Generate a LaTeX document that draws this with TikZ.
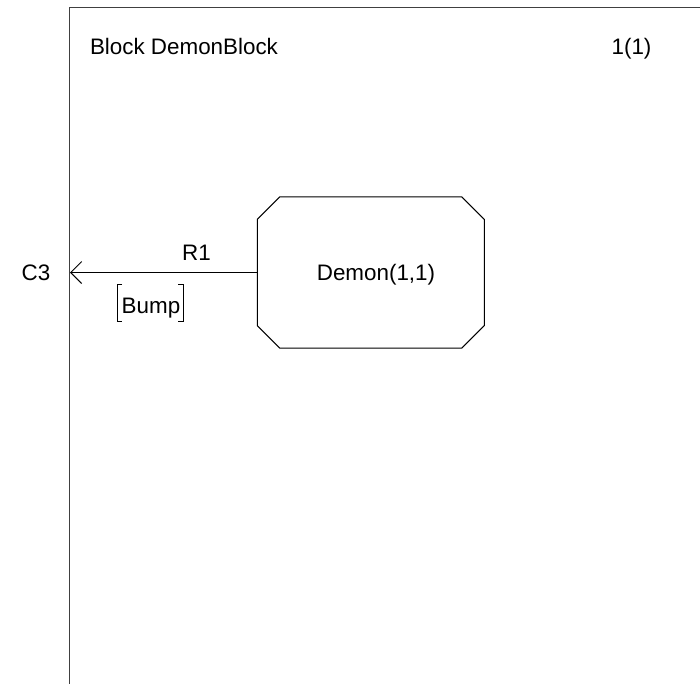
\documentclass[tikz,border=0pt]{standalone}
\usepackage{fontspec}
\setmainfont{Liberation Sans}
\usetikzlibrary{arrows.meta}
\begin{document}
\begin{tikzpicture}[x=0.5pt,y=-0.5pt,
  txt/.style={inner sep=0pt,outer sep=0pt,anchor=base,font=\fontsize{11.2}{13}\selectfont},
  frameline/.style={line width=0.9pt,draw=black!75},
  thin/.style={line width=0.5pt,draw=black},
  octa/.style={rectangle,minimum width=113.5pt,minimum height=75.5pt,inner sep=0pt,outer sep=0pt}]
\useasboundingbox (0,0) rectangle (700,684);
% frame
\coordinate (ftr) at (700,7.5);
\coordinate (ftl) at (69.5,7.5);
\coordinate (fbl) at (69.5,684);
\draw[frameline] (ftr) -- (ftl) -- (fbl);
\node[txt,anchor=base west] (title) at (90,55) {Block DemonBlock};
\node[txt] (page) at (631.5,55) {1(1)};
% process
\node[octa] (demon) at (370.75,272.5) {};
\draw[thin] ([xshift=11.2pt]demon.north west) -- ([xshift=-11.2pt]demon.north east)
  -- ([yshift=-11.2pt]demon.north east) -- ([yshift=11.2pt]demon.south east)
  -- ([xshift=-11.2pt]demon.south east) -- ([xshift=11.2pt]demon.south west)
  -- ([yshift=11.2pt]demon.south west) -- ([yshift=-11.2pt]demon.north west) -- cycle;
\node[txt] (demontxt) at (376,280) {Demon(1,1)};
% channel
\coordinate (c3pt) at (70,272.5);
\node[txt] (c3) at (36,280) {C3};
\draw[thin,-{Straight Barb[length=5.5pt,width=11pt]}] (demon.west) -- (c3pt);
\node[txt] (r1) at (196.5,260) {R1};
\node[txt] (bump) at (151,313) {Bump};
\coordinate (bl1) at (122,284);
\coordinate (bl2) at (117,284);
\coordinate (bl3) at (117,321);
\coordinate (bl4) at (122,321);
\coordinate (br1) at (178,284);
\coordinate (br2) at (183,284);
\coordinate (br3) at (183,321);
\coordinate (br4) at (178,321);
\draw[thin] (bl1) -- (bl2) -- (bl3) -- (bl4);
\draw[thin] (br1) -- (br2) -- (br3) -- (br4);
\end{tikzpicture}
\end{document}
